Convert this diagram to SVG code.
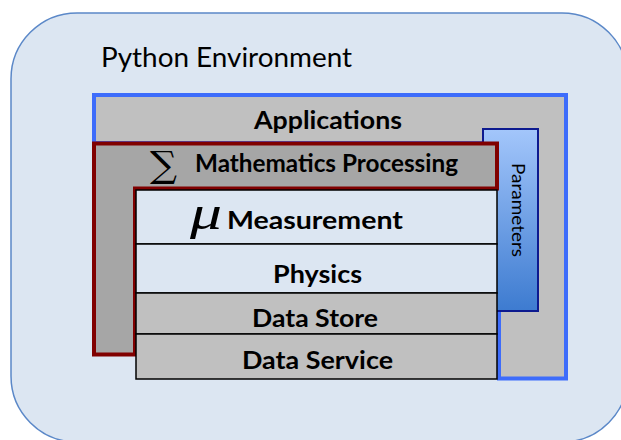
<svg xmlns="http://www.w3.org/2000/svg" width="621" height="440" viewBox="0 0 621 440">
<style>
.lbl{font-family:Lato,"Liberation Sans",Arial,sans-serif;font-weight:bold;font-size:25px;fill:#000;text-anchor:middle}
.layer{stroke:#000;stroke-width:1.5}
.light{fill:#dce6f2}
.gray{fill:#c0c0c0}
</style>
<defs>
<linearGradient id="pg" x1="0" y1="0" x2="0" y2="1">
<stop offset="0" stop-color="#a3c6fb"/>
<stop offset="1" stop-color="#3d7bd0"/>
</linearGradient>
</defs>
<g id="python-environment">
<rect x="11" y="13" width="617" height="429" rx="66" ry="66" fill="#dce6f2" stroke="#5b88c8" stroke-width="1.5"/>
<text x="101" y="67" font-family="Lato,Liberation Sans,Arial,sans-serif" font-size="27" textLength="251" lengthAdjust="spacingAndGlyphs">Python Environment</text>
</g>
<g id="applications">
<path d="M94,95 H566 V378.5 H499 V143 H94 Z" fill="#c0c0c0" stroke="#3d6cfb" stroke-width="4"/>
<text class="lbl" x="328" y="128.5" textLength="148" lengthAdjust="spacingAndGlyphs">Applications</text>
</g>
<g id="parameters">
<rect x="483" y="129" width="55" height="182" fill="url(#pg)" stroke="#0d1a8f" stroke-width="2"/>
<text transform="translate(511.5,210) rotate(90)" font-family="Lato,Liberation Sans,Arial,sans-serif" font-size="17.5" text-anchor="middle" textLength="94" lengthAdjust="spacingAndGlyphs">Parameters</text>
</g>
<g id="mathematics-processing">
<path d="M94,143.5 H497 V188.5 H135 V354.5 H94 Z" fill="#a6a6a6" stroke="#800000" stroke-width="4"/>
<text x="163.5" y="177" font-family="DejaVu Serif,Liberation Serif,serif" font-size="36" text-anchor="middle" textLength="27" lengthAdjust="spacingAndGlyphs">∑</text>
<text class="lbl" x="326.5" y="172" textLength="263" lengthAdjust="spacingAndGlyphs">Mathematics Processing</text>
</g>
<g id="measurement">
<rect class="layer light" x="136" y="190" width="361" height="54"/>
<text x="206" y="229" font-family="Liberation Serif,Times New Roman,serif" font-style="italic" font-size="48" text-anchor="middle" textLength="32" lengthAdjust="spacingAndGlyphs">μ</text>
<text class="lbl" x="315" y="228.5" textLength="176" lengthAdjust="spacingAndGlyphs">Measurement</text>
</g>
<g id="physics">
<rect class="layer light" x="136" y="244" width="361" height="49"/>
<text class="lbl" x="317.5" y="282.5" textLength="89" lengthAdjust="spacingAndGlyphs">Physics</text>
</g>
<g id="data-store">
<rect class="layer gray" x="136" y="293" width="361" height="41"/>
<text class="lbl" x="315" y="326.5" textLength="126" lengthAdjust="spacingAndGlyphs">Data Store</text>
</g>
<g id="data-service">
<rect class="layer gray" x="136" y="334" width="361" height="45"/>
<text class="lbl" x="317.5" y="369" textLength="151" lengthAdjust="spacingAndGlyphs">Data Service</text>
</g>
<g id="connectors"></g>
</svg>
